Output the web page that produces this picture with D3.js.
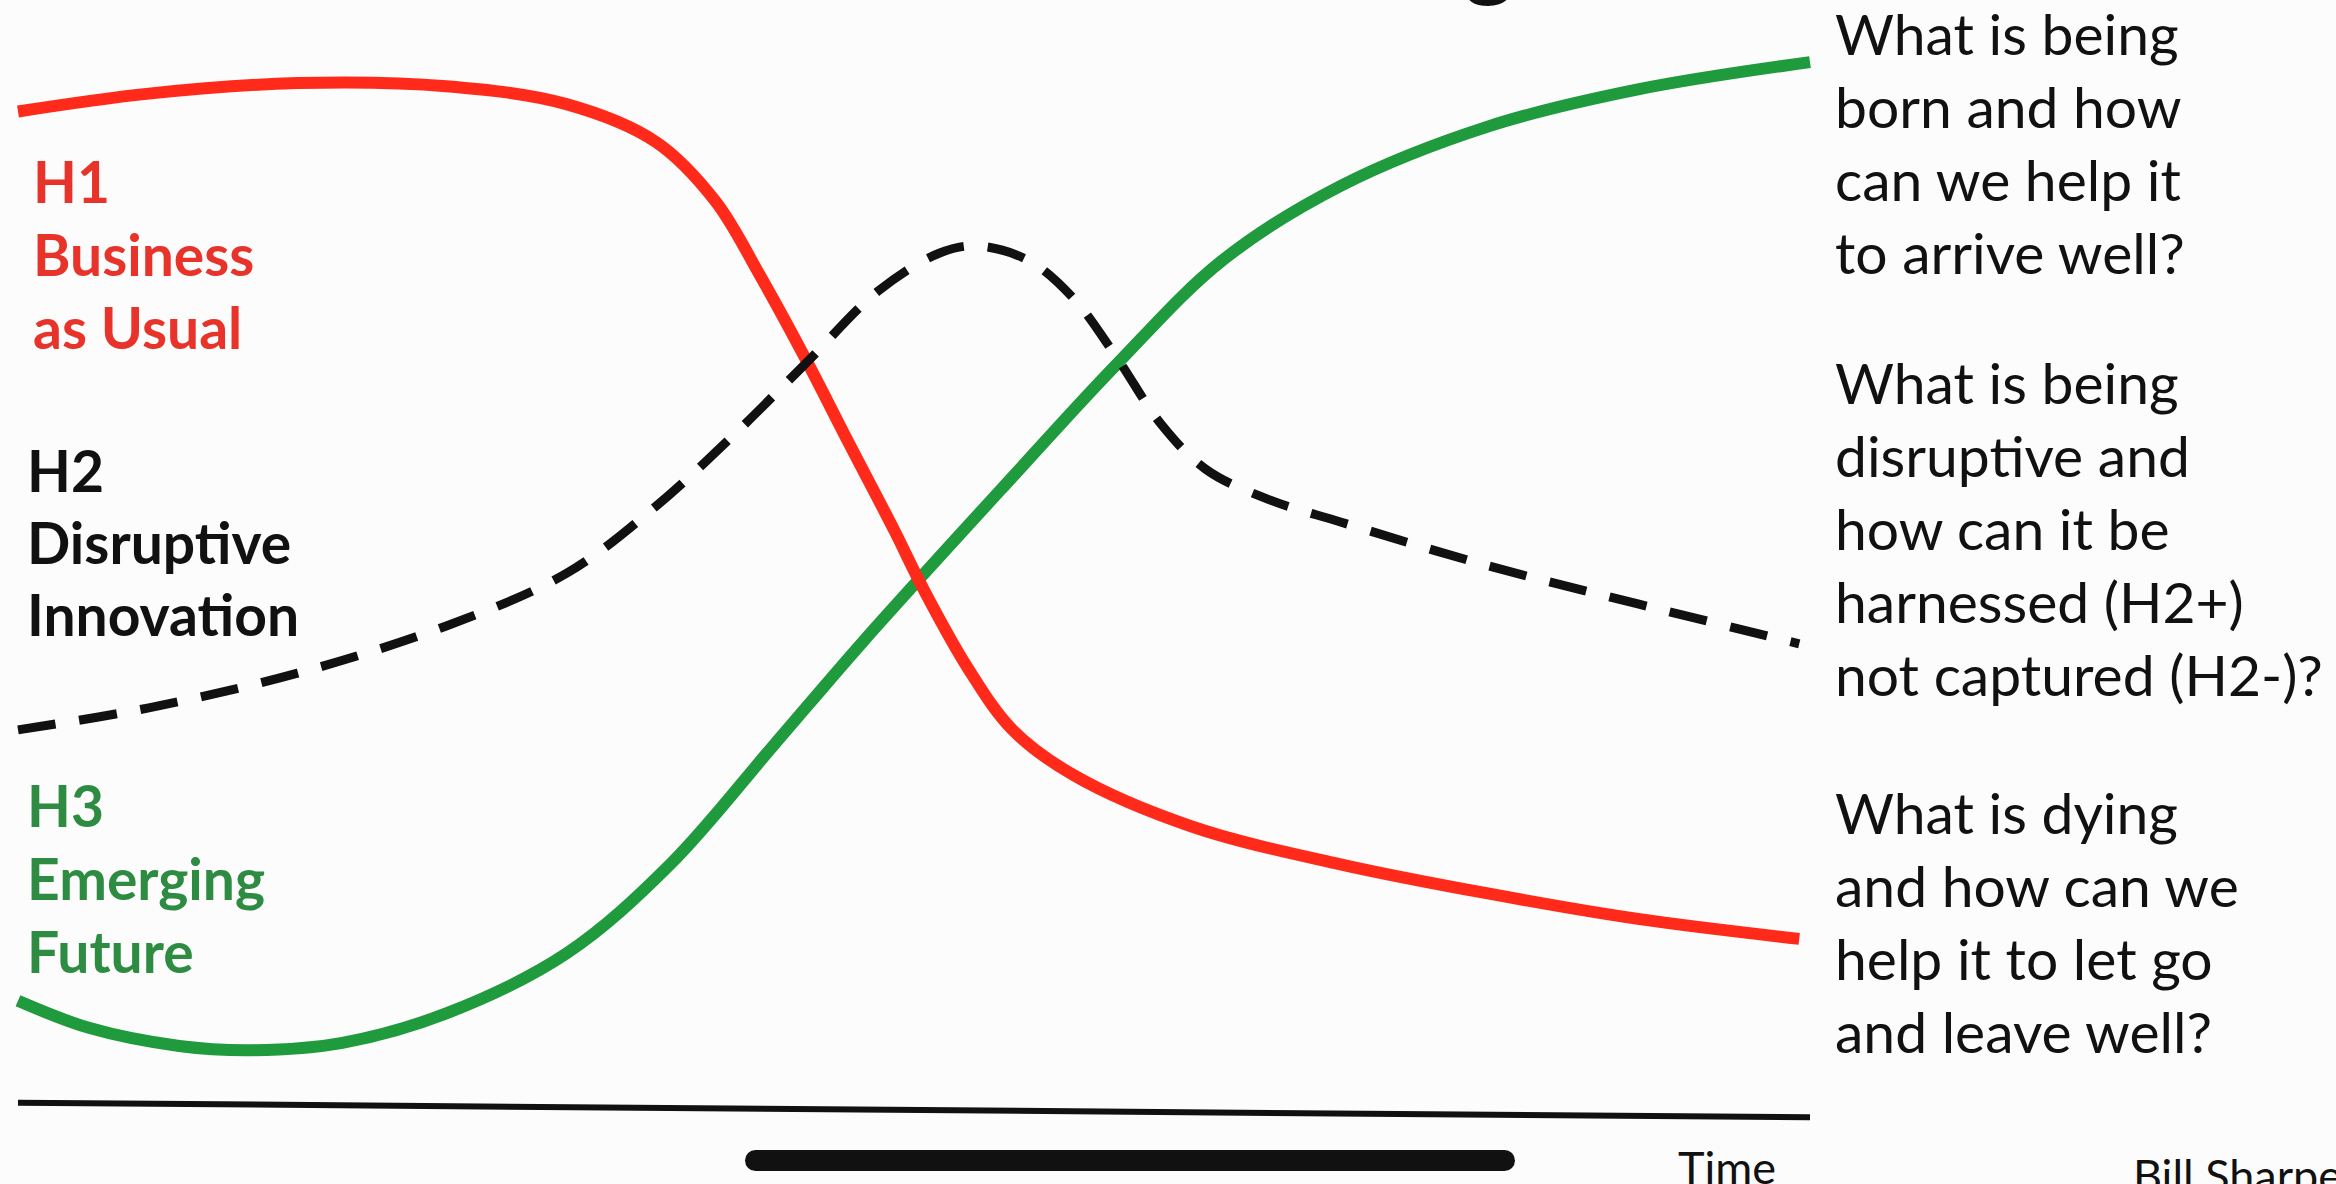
<!DOCTYPE html>
<html>
<head>
<meta charset="utf-8">
<script src="https://cdn.jsdelivr.net/npm/d3@7"></script>
<style>
  html, body { margin: 0; padding: 0; background: #fcfcfc; }
  svg { display: block; }
  text { font-family: Lato, "Open Sans", sans-serif; }
</style>
</head>
<body>
<svg id="chart" width="2336" height="1184"></svg>
<script>
// time steps (0..100) and level (0..100)
const h1Time  = [0, 7.3, 15.6, 23.9, 30.6, 35.6, 38.9, 41.4, 43.9, 46.4, 48.9, 50.5, 53.0, 55.5, 58.9, 65.5, 73.8, 82.1, 90.4, 99.4];
const h1Level = [95.1, 96.8, 97.8, 97.5, 95.8, 92.2, 86.6, 79.5, 71.7, 63.4, 55.2, 49.7, 42.1, 36.2, 31.9, 27.0, 23.4, 20.6, 18.2, 16.3];

const h2Time  = [0, 7.3, 15.6, 23.9, 30.6, 35.6, 39.7, 43.9, 48.0, 51.4, 53.5, 56.4, 58.9, 61.3, 63.8, 66.3, 69.7, 73.8, 82.1, 90.4, 99.4];
const h2Level = [36.2, 38.3, 41.6, 46.1, 51.1, 57.5, 63.9, 71.0, 78.0, 81.6, 82.3, 80.9, 77.3, 71.7, 65.3, 61.0, 58.2, 56.0, 51.8, 48.2, 44.4];

const h3Time  = [0, 4.0, 9.0, 13.1, 18.1, 23.9, 30.6, 36.4, 42.2, 47.2, 55.5, 61.3, 67.2, 73.8, 82.1, 90.4, 100];
const h3Level = [10.4, 7.8, 6.1, 5.7, 6.4, 9.2, 14.9, 23.4, 34.8, 44.7, 60.3, 71.0, 80.9, 88.0, 93.7, 97.2, 99.8];

const axisTime  = [0, 100];
const axisLevel = [0.7, -0.7];

const h1Label = ['H1', 'Business', 'as Usual'];
const h2Label = ['H2', 'Disruptive', 'Innovation'];
const h3Label = ['H3', 'Emerging', 'Future'];

const q1 = ['What is being', 'born and how', 'can we help it', 'to arrive well?'];
const q2 = ['What is being', 'disruptive and', 'how can it be', 'harnessed (H2+)', 'not captured (H2-)?'];
const q3 = ['What is dying', 'and how can we', 'help it to let go', 'and leave well?'];

const svg = d3.select('#chart');

const x = d3.scaleLinear().domain([0, 100]).range([18, 1810]);
const y = d3.scaleLinear().domain([0, 100]).range([1110, 60]);

const line = d3.line()
    .x(d => x(d[0]))
    .y(d => y(d[1]))
    .curve(d3.curveCatmullRom.alpha(0.5));

const zip = (a, b) => a.map((v, i) => [v, b[i]]);

// cut-off title at the very top, only the descender shows
svg.append('text')
    .attr('x', 1515).attr('y', -12)
    .attr('text-anchor', 'end')
    .style('font-size', '100px')
    .style('fill', '#111')
    .text('Three Horizons Thinking');

// time axis
svg.append('path')
    .attr('d', d3.line().x(d => x(d[0])).y(d => y(d[1]))(zip(axisTime, axisLevel)))
    .attr('fill', 'none')
    .attr('stroke', '#111')
    .attr('stroke-width', 6);

// the three horizons
svg.append('path')
    .attr('d', line(zip(h3Time, h3Level)))
    .attr('fill', 'none')
    .attr('stroke', '#1f9a3c')
    .attr('stroke-width', 12);

svg.append('path')
    .attr('d', line(zip(h1Time, h1Level)))
    .attr('fill', 'none')
    .attr('stroke', '#ff2a1a')
    .attr('stroke-width', 12);

svg.append('path')
    .attr('d', line(zip(h2Time, h2Level)))
    .attr('fill', 'none')
    .attr('stroke', '#111')
    .attr('stroke-width', 9)
    .attr('stroke-dasharray', '38,24');

// labels on the left
const addBlock = (lines, x0, y0, step, opts) => {
    svg.append('g').selectAll('text')
        .data(lines)
        .join('text')
        .attr('x', x0)
        .attr('y', (d, i) => y0 + i * step)
        .style('font-size', opts.size + 'px')
        .style('font-weight', opts.weight || 400)
        .style('fill', opts.color)
        .text(d => d);
};

addBlock(h1Label, 33, 203, 73, {size: 57, weight: 700, color: '#e8332a'});
addBlock(h2Label, 27, 492, 72, {size: 57, weight: 700, color: '#111'});
addBlock(h3Label, 27, 827, 73, {size: 57, weight: 700, color: '#2e8c42'});

// questions on the right
addBlock(q1, 1835, 55, 73, {size: 57, color: '#111'});
addBlock(q2, 1835, 404, 73, {size: 57, color: '#111'});
addBlock(q3, 1835, 834, 73, {size: 57, color: '#111'});

// bottom strip
svg.append('rect')
    .attr('x', 745).attr('y', 1150)
    .attr('width', 770).attr('height', 21)
    .attr('rx', 10.5)
    .attr('fill', '#111');

svg.append('text')
    .attr('x', 1678).attr('y', 1184)
    .style('font-size', '45px')
    .style('fill', '#111')
    .text('Time');

svg.append('text')
    .attr('x', 2133).attr('y', 1192)
    .style('font-size', '45px')
    .style('fill', '#111')
    .text('Bill Sharpe');
</script>
</body>
</html>
